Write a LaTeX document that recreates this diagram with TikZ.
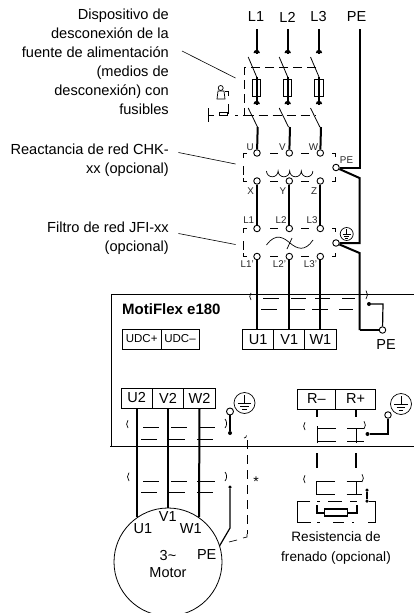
\documentclass[tikz,border=0pt]{standalone}
\usepackage{fontspec}
\setmainfont{Liberation Sans}
\tikzset{
	term/.style={circle,draw,line width=0.9pt,inner sep=0pt,minimum size=6.5pt,fill=white},
	dot/.style={circle,fill=black,inner sep=0pt,minimum size=4pt},
	tiny label/.style={font=\fontsize{9.8}{10}\selectfont,text=black!85,inner sep=0pt},
	big label/.style={font=\fontsize{14.5}{15}\selectfont,inner sep=0pt},
	note/.style={font=\fontsize{14.6}{19}\selectfont,align=right,anchor=east,inner sep=0pt},
	cell/.style={draw,line width=0.9pt,inner sep=0pt,minimum height=20pt,font=\fontsize{14.5}{15}\selectfont},
	small cell/.style={draw,line width=0.7pt,inner sep=0pt,minimum height=20pt,font=\fontsize{11.5}{12}\selectfont},
	wire/.style={line width=2pt},
	thin wire/.style={line width=1.2pt},
	frame/.style={line width=0.9pt},
	gnd/.pic={
		\draw[line width=0.7pt] (0,0) circle (1);
		\draw[line width=0.7pt] (0,-0.75) -- (0,0) (-0.62,0) -- (0.62,0) (-0.42,0.3) -- (0.42,0.3) (-0.22,0.6) -- (0.22,0.6);
	},
}
\begin{document}
\begin{tikzpicture}[x=1pt,y=-1pt]
	\useasboundingbox (0,0) rectangle (414,613);
	\clip (0,0) rectangle (414,613);

	% text on the left
	\node[note] (nDisc) at (169,61.5) {Dispositivo de\\desconexión de la\\fuente de alimentación\\(medios de\\desconexión) con\\fusibles};
	\node[note] (nChk) at (169,160.5) {Reactancia de red CHK-\\xx (opcional)};
	\node[note] (nJfi) at (169,238.5) {Filtro de red JFI-xx\\(opcional)};
	\coordinate (cDisc) at (235.5,78);
	\coordinate (cChk) at (235.5,164);
	\coordinate (cJfi) at (235.5,244.5);
	\draw[line width=0.6pt] (182,51) -- (cDisc);
	\draw[line width=0.6pt] (178.5,152.5) -- (cChk);
	\draw[line width=0.6pt] (178.5,233.5) -- (cJfi);

	% supply
	\node[big label] (l1) at (256,17) {L1};
	\node[big label] (l2) at (287.5,17) {L2};
	\node[big label] (l3) at (318.5,17) {L3};
	\node[big label] (pe) at (356.5,17) {PE};

	% disconnector
	\foreach \n/\x in {1/256.7,2/287.7,3/319} {
		\coordinate (top\n) at (\x,29);
		\coordinate (sa\n) at (\x,54);
		\coordinate (sb\n) at (\x,105);
		\draw[wire] (top\n) -- (sa\n);
		\fill (\x-3.2,53) -- (\x+3.2,53) arc (0:-180:3.2) -- cycle;
		\fill (\x-3.2,104) -- (\x+3.2,104) arc (0:-180:3.2) -- cycle;
		\draw[line width=0.8pt] (\x-8.5,57) -- (\x,77);
		\draw[wire] (\x,77) -- (sb\n);
		\draw[line width=0.7pt] (\x-4.2,79.5) rectangle (\x+4,96);
		\draw[line width=0.8pt] (\x-8.5,108) -- (\x+0.8,127);
	}
	\draw[line width=0.7pt,dash pattern=on 9pt off 5pt] (316,67.5) -- (244.5,67.5) -- (244.5,115) -- (235,115);
	\draw[line width=0.7pt,dash pattern=on 9pt off 5pt] (244.5,115) -- (316,115);
	\draw[line width=0.7pt] (208,108) -- (208,122) (208,115) -- (214,115);
	\draw[line width=0.7pt] (219,112) rectangle (227,115.5);
	\draw[line width=0.7pt] (225,91) -- (228.5,91) -- (228.5,96) (228.5,104) -- (228.5,113) -- (227,113);
	\draw[line width=0.7pt] (220.7,88) circle (2.5);
	\draw[line width=0.7pt] (217,99) -- (225,99) -- (224,91) -- (218,91) -- cycle;

	% reactor
	\foreach \n/\x/\a/\b in {1/257.7/U/X,2/290/V/Y,3/321/W/Z} {
		\node[term] (ru\n) at (\x-0.7,153) {};
		\node[term] (rd\n) at (\x-0.7,181) {};
		\draw[wire] (\x,127) -- (ru\n);
		\node[tiny label] (ra\n) at (\x-7.5,147) {\a};
		\node[tiny label] (rb\n) at (\x-7,191) {\b};
	}
	\draw[line width=0.7pt] (247,153) -| (243,158)  (243,166) -- (243,175) (243,178) |- (247,181)
		(270,153) -- (278,153) (301,153) -- (309,153) (332,153) -| (335,157)
		(270,181) -- (278,181) (301,181) -- (309,181) (332,181) -| (335,177);
	\draw[line width=0.7pt] (266.5,171) arc (180:0:5.8) arc (180:0:5.8) arc (180:0:5.8) arc (180:0:5.8);

	% line filter
	\foreach \n/\x/\a in {1/257.7/L1,2/290/L2,3/321/L3} {
		\node[term] (fu\n) at (\x-0.7,228.5) {};
		\node[term] (fd\n) at (\x-0.7,256.5) {};
		\draw[wire] (rd\n) -- (fu\n);
		\node[tiny label] (fa\n) at (\x-9,220) {\a};
		\node[tiny label] (fb\n) at (\x-10.5,264.5) {\a'};
	}
	\draw[line width=0.7pt] (247,228.5) -| (243,233)  (243,241) -- (243,250) (243,253) |- (247,256.5)
		(270,228.5) -- (278,228.5) (301,228.5) -- (309,228.5) (332,228.5) -| (335,232)
		(270,256.5) -- (278,256.5) (301,256.5) -- (309,256.5) (332,256.5) -| (335,253);
	\draw[line width=0.7pt] (266.5,245) .. controls (276,232) and (284,238) .. (290,243) .. controls (297,249) and (305,252) .. (313,240);
	\draw[line width=0.7pt] (287,249) -- (292,238);

	% earth conductor
	\node[term] (rpe) at (336,167.5) {};
	\node[term] (fpe) at (336,243) {};
	\node[tiny label] (rpel) at (346.5,160.5) {PE};
	\pic[scale=6.5] at (346.7,234) {gnd};
	\coordinate (petop) at (359.5,29);
	\coordinate (peA) at (359.5,178);
	\coordinate (peB) at (359.5,253);
	\coordinate (peC) at (359.5,330);
	\draw[wire] (petop) |- (rpe);
	\draw[wire] (rpe) -- (peA) |- (fpe);
	\draw[wire] (fpe) -- (peB) -- (peC);

	% drive frame
	\draw[frame] (414,294.5) -- (111,294.5) -- (111,446);
	\draw[frame] (110,446) -- (414,446);
	\node[inner sep=0pt,anchor=west,font=\fontsize{15}{15}\selectfont\bfseries] (drive) at (122,309) {MotiFlex e180};
	\node[small cell,minimum width=39.5pt] (udcp) at (141.7,339) {UDC+};
	\node[small cell,minimum width=38pt] (udcm) at (180,339) {UDC–};

	% input terminals
	\node[cell,minimum width=31pt] (u1) at (258.2,339.3) {U1};
	\node[cell,minimum width=31.2pt] (v1) at (289.3,339.3) {V1};
	\node[cell,minimum width=31.2pt] (w1) at (320.4,339.3) {W1};
	\draw[wire] (fd1) -- (u1.north -| fd1);
	\draw[wire] (fd2) -- (v1.north -| fd2);
	\draw[wire] (fd3) -- (w1.north -| fd3);
	\draw[line width=0.7pt] (251,300) arc (140:220:5.5);
	\draw[line width=0.7pt] (263,298.5) -- (279,298.5) (291,298.5) -- (306,298.5) (315,298.5) -- (330,298.5) (342,298.5) -- (355,298.5)
		(261,309.5) -- (277,309.5) (290,309.5) -- (305,309.5) (312,309.5) -- (328,309.5) (339,309.5) -- (353,309.5);
	\draw[line width=0.7pt] (366,299) arc (40:-40:6.5);
	\node[term] (pein) at (382.5,330) {};
	\node[big label] (pel) at (386,344.5) {PE};
	\node[dot] (pedot) at (369,304) {};
	\draw[thin wire] (peC) -- (pein);
	\draw[thin wire] (pein) -- (383,304) -- (pedot);

	% output terminals
	\node[cell,minimum width=31pt] (u2) at (136.7,398) {U2};
	\node[cell,minimum width=31pt] (v2) at (168,398) {V2};
	\node[cell,minimum width=32pt] (w2) at (199.5,398) {W2};
	\node[term,minimum size=7pt] (mterm) at (230,411.5) {};
	\pic[scale=10.5] at (244.5,403) {gnd};
	\node[dot] (mdot) at (230,433) {};
	\draw[thin wire] (mterm) -- (mdot);
	\draw[line width=0.7pt] (128,428) arc (140:220:6);
	\draw[line width=0.7pt] (143,427) -- (159,427) (171,427) -- (187,427) (199,427) -- (215,427)
		(141,439) -- (157,439) (169,439) -- (185,439) (197,439) -- (213,439);
	\draw[line width=0.7pt] (225,428) arc (40:-40:7);
	\draw[line width=0.7pt] (244,438) arc (90:0:2.5);

	% motor
	\node[circle,draw,line width=0.8pt,inner sep=0pt,minimum size=108pt] (motor) at (168,562) {};
	\node[big label] (mu) at (143,529) {U1};
	\node[big label] (mv) at (167.7,517) {V1};
	\node[big label] (mw) at (190.7,529) {W1};
	\node[big label] (mpe) at (206.7,555) {PE};
	\node[inner sep=0pt,align=center,font=\fontsize{14.5}{17}\selectfont] (mtxt) at (168,564) {3\textasciitilde\\Motor};
	\draw[wire] (u2.south) ++(0.3,0) -- (137,517);
	\draw[wire] (v2.south) -- (168,508);
	\draw[wire] (w2.south) -- (199,517);
	\draw[line width=0.7pt] (129,481) arc (140:220:6.5);
	\draw[line width=0.7pt] (143,481) -- (159,481) (171,481) -- (187,481) (197,481) -- (215,481)
		(141,492) -- (157,492) (169,492) -- (185,492) (197,492) -- (213,492);
	\draw[line width=0.7pt] (225,481) arc (40:-40:7);
	\node[dot,minimum size=3.5pt] (mdotb) at (230,487) {};
	\draw[thin wire] (mdotb) -- (230,528) -- (219.5,546);
	\draw[line width=0.7pt,dash pattern=on 9pt off 6pt] (247,440) -- (247,534);
	\draw[line width=0.7pt] (247,534) -- (247,537) -- (243,538) (237,540) -- (229,542);
	\node[inner sep=0pt,font=\fontsize{14}{14}\selectfont] (star) at (256,482) {*};

	% brake resistor
	\node[cell,minimum width=38.5pt] (rm) at (316.5,399) {R–};
	\node[cell,minimum width=39.5pt] (rp) at (355.5,399) {R+};
	\coordinate (rmA) at (317,417);
	\coordinate (rpA) at (355.7,417);
	\draw[wire] (rm.south -| rmA) -- (rmA);
	\draw[wire] (rp.south -| rpA) -- (rpA);
	\draw[line width=0.9pt] (336,441) -- (317,441) -- (317,428) -- (336,428);
	\draw[line width=0.9pt] (317,443) -- (317,426);
	\draw[line width=0.9pt] (347,428) -- (364,428) (347,441) -- (364,441) (356,428) -- (356,443);
	\draw[line width=0.7pt] (305,430) arc (140:220:6);
	\draw[line width=0.7pt] (364,429) arc (40:-40:6);
	\node[term] (rterm) at (388,415) {};
	\node[dot] (rdot) at (367.5,434) {};
	\draw[thin wire] (rterm) |- (rdot);
	\pic[scale=10.5] at (401,404) {gnd};
	\draw[wire] (317,453) -- (317,468);
	\draw[wire] (356,453) -- (356,468);
	\draw[line width=0.9pt] (335,481) -- (316.7,481) -- (316.7,494) -- (335,494);
	\draw[line width=0.9pt] (346.7,481) -- (362,481) (346.7,494) -- (362,494) (356,481) -- (356,494);
	\draw[line width=0.7pt] (305,483) arc (140:220:6);
	\draw[line width=0.7pt] (362,482) arc (40:-40:6);
	\node[dot,minimum size=3.5pt] (bdota) at (367,490) {};
	\node[dot,minimum size=3.5pt] (bdotb) at (367,501) {};
	\draw[thin wire] (bdota) -- (bdotb);
	\draw[line width=0.7pt] (310,501) -- (297,501) -- (297,522) -- (311,522);
	\draw[line width=0.7pt] (368,522) -- (375.7,522) -- (375.7,501) -- (bdotb);
	\draw[line width=0.7pt] (317,501) -- (320,501) (328,501) -- (342,501) (350,501) -- (357,501)
		(317,522) -- (320,522) (333,522) -- (344,522) (352,522) -- (354,522);
	\node[draw,line width=1.2pt,inner sep=0pt,minimum width=23pt,minimum height=7pt] (brake) at (336,512.5) {};
	\draw[wire] (brake.west) -- (317,512.5) -- (317,505);
	\draw[wire] (brake.east) -- (357,512.5) -- (357,505);
	\node[inner sep=0pt,align=center,font=\fontsize{13.6}{19.5}\selectfont] (btxt) at (336,548) {Resistencia de\\frenado (opcional)};
\end{tikzpicture}
\end{document}
